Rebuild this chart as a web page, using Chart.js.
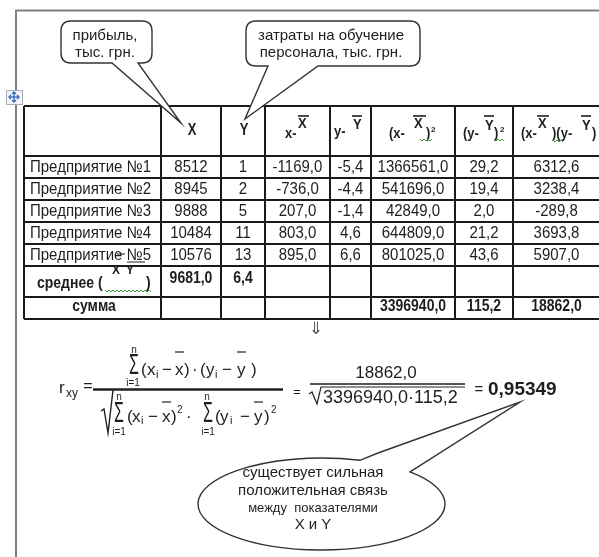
<!DOCTYPE html>
<html>
<head>
<meta charset="utf-8">
<script src="https://cdn.jsdelivr.net/npm/chart.js@4"></script>
<style>
  html, body { margin: 0; padding: 0; background: #fff; }
  #wrap { width: 599px; height: 557px; }
</style>
</head>
<body>
<div id="wrap"><canvas id="sheet" width="599" height="557"></canvas></div>
<script>
const firms = ['Предприятие №1', 'Предприятие №2', 'Предприятие №3', 'Предприятие №4', 'Предприятие №5'];
const profitX = [8512, 8945, 9888, 10484, 10576];
const trainingY = [1, 2, 5, 11, 13];
const devX = [-1169.0, -736.0, 207.0, 803.0, 895.0];
const devY = [-5.4, -4.4, -1.4, 4.6, 6.6];
const devX2 = [1366561.0, 541696.0, 42849.0, 644809.0, 801025.0];
const devY2 = [29.2, 19.4, 2.0, 21.2, 43.6];
const devXY = [6312.6, 3238.4, -289.8, 3693.8, 5907.0];
const meanXY = [9681.0, 6.4];
const sumCols = [3396940.0, 115.2, 18862.0];
const rxy = 0.95349;

const noteX = ['прибыль,', 'тыс. грн.'];
const noteY = ['затраты на обучение', 'персонала, тыс. грн.'];
const conclusion = ['существует сильная', 'положительная связь', 'между  показателями', 'X и Y'];

// layout of the sheet (in sheet units = px)
const COLS = [24, 161, 221, 265, 330, 371, 455, 513, 600];
const ROWS = [106, 156, 178, 200, 222, 244, 266, 297, 319];
const FONT = '"Liberation Sans", Arial, sans-serif';
const INK = '#1e1e1e';

function fmt(v) {
  return v.toFixed(1).replace('.', ',');
}

function makePen(chart) {
  const ctx = chart.ctx;
  const sx = chart.scales.x, sy = chart.scales.y;
  const X = v => sx.getPixelForValue(v);
  const Y = v => sy.getPixelForValue(v);
  return {
    ctx, X, Y,
    line(pts, color, w) {
      ctx.save();
      ctx.strokeStyle = color || INK;
      ctx.lineWidth = w || 1;
      ctx.beginPath();
      pts.forEach((p, i) => i ? ctx.lineTo(X(p[0]), Y(p[1])) : ctx.moveTo(X(p[0]), Y(p[1])));
      ctx.stroke();
      ctx.restore();
    },
    text(s, x, y, size, o) {
      o = o || {};
      ctx.save();
      ctx.fillStyle = o.color || INK;
      ctx.font = (o.bold ? 'bold ' : '') + size + 'px ' + (o.family || FONT);
      ctx.textAlign = o.align || 'center';
      ctx.textBaseline = o.base || 'middle';
      ctx.translate(X(x), Y(y));
      ctx.scale(1, o.stretch || 1);
      ctx.fillText(s, 0, 0);
      ctx.restore();
    },
    wavy(x1, x2, y) {
      const pts = [];
      let up = true;
      for (let x = x1; x <= x2; x += 2) { pts.push([x, y + (up ? -1 : 1)]); up = !up; }
      this.line(pts, '#3c9a3c', 1);
    }
  };
}

function drawTable(pen) {
  const S = 1.12;
  const colMid = i => (COLS[i] + COLS[i + 1]) / 2;
  const rowMid = i => (ROWS[i] + ROWS[i + 1]) / 2;

  // grid
  ROWS.forEach(y => pen.line([[COLS[0], y], [COLS[COLS.length - 1], y]], '#1a1a1a', 2));
  COLS.forEach(x => pen.line([[x, ROWS[0]], [x, ROWS[ROWS.length - 1]]], '#1a1a1a', 2));

  // header
  pen.text('X', 192, 131, 13, { bold: true, stretch: 1.25 });
  pen.text('Y', 244, 131, 13, { bold: true, stretch: 1.25 });
  const hb = { bold: true, align: 'left', stretch: 1.1 };
  const heads = [
    ['x-', 285, 134], ['X', 298, 124],
    ['y-', 334, 132], ['Y', 353, 125],
    ['(x-', 389, 134], ['X', 414, 124], [')', 426, 134],
    ['(y-', 463, 134], ['Y', 485, 126], [')', 494, 134],
    ['(x-', 521, 134], ['X', 538, 124], [')(y-', 552, 134], ['Y', 582, 126], [')', 592, 134]
  ];
  heads.forEach(h => pen.text(h[0], h[1], h[2], 13, hb));
  pen.text('2', 431, 130, 8, { bold: true, align: 'left' });
  pen.text('2', 500, 130, 8, { bold: true, align: 'left' });
  [[298, 309], [352, 362], [413, 426], [484, 494], [537, 549], [581, 591]]
    .forEach(b => pen.line([[b[0], 116], [b[1], 116]], INK, 1.6));
  pen.wavy(420, 432, 140);
  pen.wavy(494, 504, 140);
  pen.wavy(553, 563, 141);

  // enterprise rows
  firms.forEach((name, i) => {
    const y = rowMid(i + 1);
    pen.text(name, 30, y, 15, { align: 'left', stretch: S });
    const cells = [String(profitX[i]), String(trainingY[i]), fmt(devX[i]), fmt(devY[i]),
      fmt(devX2[i]), fmt(devY2[i]), fmt(devXY[i])];
    cells.forEach((c, j) => pen.text(c, colMid(j + 1), y, 15, { stretch: S }));
  });
  pen.line([[127, 262], [145, 262]], INK, 1);
  pen.line([[117, 254], [125, 254]], INK, 1);

  // mean row
  pen.text('среднее (', 37, 284, 14, { bold: true, align: 'left', stretch: S });
  pen.text(')', 146, 284, 14, { bold: true, align: 'left', stretch: S });
  pen.ctx.save();
  pen.ctx.beginPath();
  pen.ctx.rect(pen.X(100), pen.Y(267), pen.X(160) - pen.X(100), pen.Y(290) - pen.Y(267));
  pen.ctx.clip();
  pen.text('X', 116, 271, 12, { bold: true });
  pen.text('Y', 130, 271, 12, { bold: true });
  pen.ctx.restore();
  pen.wavy(105, 152, 291);
  meanXY.forEach((v, j) => pen.text(fmt(v), colMid(j + 1), 279, 14, { bold: true, stretch: S }));

  // sum row
  pen.text('сумма', 94, 307, 14, { bold: true, stretch: S });
  sumCols.forEach((v, j) => pen.text(fmt(v), colMid(j + 5), 307, 14, { bold: true, stretch: S }));
}

function roundCallout(pen, x1, y1, x2, y2, r, a, b, tip) {
  const { ctx, X, Y } = pen;
  ctx.save();
  ctx.beginPath();
  ctx.moveTo(X(x1 + r), Y(y1));
  ctx.lineTo(X(x2 - r), Y(y1));
  ctx.quadraticCurveTo(X(x2), Y(y1), X(x2), Y(y1 + r));
  ctx.lineTo(X(x2), Y(y2 - r));
  ctx.quadraticCurveTo(X(x2), Y(y2), X(x2 - r), Y(y2));
  ctx.lineTo(X(b), Y(y2));
  ctx.lineTo(X(tip[0]), Y(tip[1]));
  ctx.lineTo(X(a), Y(y2));
  ctx.lineTo(X(x1 + r), Y(y2));
  ctx.quadraticCurveTo(X(x1), Y(y2), X(x1), Y(y2 - r));
  ctx.lineTo(X(x1), Y(y1 + r));
  ctx.quadraticCurveTo(X(x1), Y(y1), X(x1 + r), Y(y1));
  ctx.closePath();
  ctx.fillStyle = '#fff';
  ctx.fill();
  ctx.strokeStyle = '#333';
  ctx.lineWidth = 1.4;
  ctx.stroke();
  ctx.restore();
}

function drawFormula(pen) {
  const t = (s, x, y, size, o) => pen.text(s, x, y, size, Object.assign({ align: 'left', base: 'alphabetic' }, o || {}));

  // r_xy =
  t('r', 59, 393, 17);
  t('xy', 66, 397, 12);
  pen.text('=', 88, 387, 16);

  // numerator
  pen.text('n', 134, 350, 10);
  pen.text('Σ', 134, 366, 16, { stretch: 1.9 });
  pen.text('i=1', 133, 383, 10);
  [['(', 141], ['x', 147], ['−', 162], ['x', 175], [')', 184], ['·', 192], ['(', 200], ['y', 206], ['−', 222], ['y', 237], [')', 251]]
    .forEach(p => t(p[0], p[1], 375, 17));
  t('i', 156, 378, 11);
  t('i', 215, 378, 11);
  pen.line([[175, 352], [184, 352]], INK, 1.2);
  pen.line([[237, 352], [246, 352]], INK, 1.2);

  pen.line([[93, 389.5], [283, 389.5]], '#222', 2.5);
  pen.line([[101, 411], [104, 409], [108, 433], [113, 390]], '#222', 1.4);

  // denominator
  pen.text('n', 119, 397, 10);
  pen.text('n', 207, 397, 10);
  pen.text('Σ', 119, 414, 16, { stretch: 1.9 });
  pen.text('Σ', 208, 414, 16, { stretch: 1.9 });
  pen.text('i=1', 119, 432, 10);
  pen.text('i=1', 208, 432, 10);
  [['(', 127], ['x', 132], ['−', 148], ['x', 162], [')', 171], ['·', 186], ['(', 215], ['y', 220], ['−', 240], ['y', 254], [')', 264]]
    .forEach(p => t(p[0], p[1], 422, 17));
  t('i', 141, 424, 11);
  t('i', 230, 424, 11);
  t('2', 177, 413, 10);
  t('2', 271, 413, 10);
  pen.line([[162, 402], [171, 402]], INK, 1.2);
  pen.line([[254, 402], [263, 402]], INK, 1.2);

  // numbers
  pen.text('=', 297, 392, 13);
  pen.text(fmt(sumCols[2]), 386, 373, 17);
  pen.line([[310, 384], [465, 384]], '#555', 2);
  pen.line([[309, 394], [312, 392], [317, 404], [321, 387], [465, 387]], '#222', 1.2);
  pen.text(fmt(sumCols[0]) + '·' + fmt(sumCols[1]), 323, 398, 18, { align: 'left' });
  pen.text('=', 479, 390, 15);
  pen.text(rxy.toFixed(5).replace('.', ','), 488, 390, 19, { bold: true, align: 'left' });
}

function drawBubble(pen) {
  const { ctx, X, Y } = pen;
  const cx = 321.5, cy = 504, rx = 123.5, ry = 46;
  const a0 = -0.772, a1 = -1.254 + Math.PI * 2;
  ctx.save();
  ctx.beginPath();
  ctx.ellipse(X(cx), Y(cy), X(cx + rx) - X(cx), Y(cy + ry) - Y(cy), 0, a0, a1, false);
  ctx.lineTo(X(378), Y(453));
  ctx.lineTo(X(520), Y(402));
  ctx.closePath();
  ctx.fillStyle = '#fff';
  ctx.fill();
  ctx.strokeStyle = '#333';
  ctx.lineWidth = 1.4;
  ctx.stroke();
  ctx.restore();
  const ys = [473, 491, 508, 525];
  const sizes = [15, 15, 13, 15];
  conclusion.forEach((s, i) => pen.text(s, 313, ys[i], sizes[i]));
}

function drawMoveHandle(pen) {
  const { ctx, X, Y } = pen;
  ctx.save();
  ctx.fillStyle = '#f3f5f9';
  ctx.strokeStyle = '#a8adb8';
  ctx.lineWidth = 1;
  ctx.fillRect(X(6), Y(90), 16, 14);
  ctx.strokeRect(X(6) + 0.5, Y(90) + 0.5, 16, 14);
  ctx.restore();
  const c = '#2f64b8';
  pen.line([[9, 97], [19, 97]], c, 1.3);
  pen.line([[14, 92], [14, 102]], c, 1.3);
  [[[9, 97], [11, 95], [11, 99]], [[19, 97], [17, 95], [17, 99]], [[14, 92], [12, 94], [16, 94]], [[14, 102], [12, 100], [16, 100]]]
    .forEach(tri => pen.line([tri[1], tri[0], tri[2]], c, 1.3));
}

const worksheetPlugin = {
  id: 'worksheet',
  beforeDraw(chart) {
    const ctx = chart.ctx;
    ctx.save();
    ctx.fillStyle = '#fff';
    ctx.fillRect(0, 0, chart.width, chart.height);
    ctx.restore();
  },
  afterDraw(chart) {
    const pen = makePen(chart);
    // page frame
    pen.line([[15, 10.5], [599, 10.5]], '#808080', 2);
    pen.line([[16, 10], [16, 557]], '#808080', 2);

    drawTable(pen);
    drawMoveHandle(pen);

    roundCallout(pen, 61, 21, 152, 63, 10, 112, 138, [181, 123]);
    noteX.forEach((s, i) => pen.text(s, 105, 36 + i * 17, 15));
    roundCallout(pen, 246, 21, 420, 66, 10, 268, 318, [245, 119]);
    noteY.forEach((s, i) => pen.text(s, 331, 36 + i * 17, 15));

    pen.text('⇓', 316, 330, 17, { family: '"DejaVu Sans", sans-serif', color: '#555' });

    drawFormula(pen);
    drawBubble(pen);
  }
};

new Chart(document.getElementById('sheet'), {
  type: 'scatter',
  data: { datasets: [] },
  options: {
    responsive: false,
    animation: false,
    devicePixelRatio: 1,
    layout: { padding: 0 },
    scales: {
      x: { type: 'linear', min: 0, max: 599, display: false },
      y: { type: 'linear', min: 0, max: 557, reverse: true, display: false }
    },
    plugins: { legend: { display: false }, tooltip: { enabled: false } }
  },
  plugins: [worksheetPlugin]
});
</script>
</body>
</html>
